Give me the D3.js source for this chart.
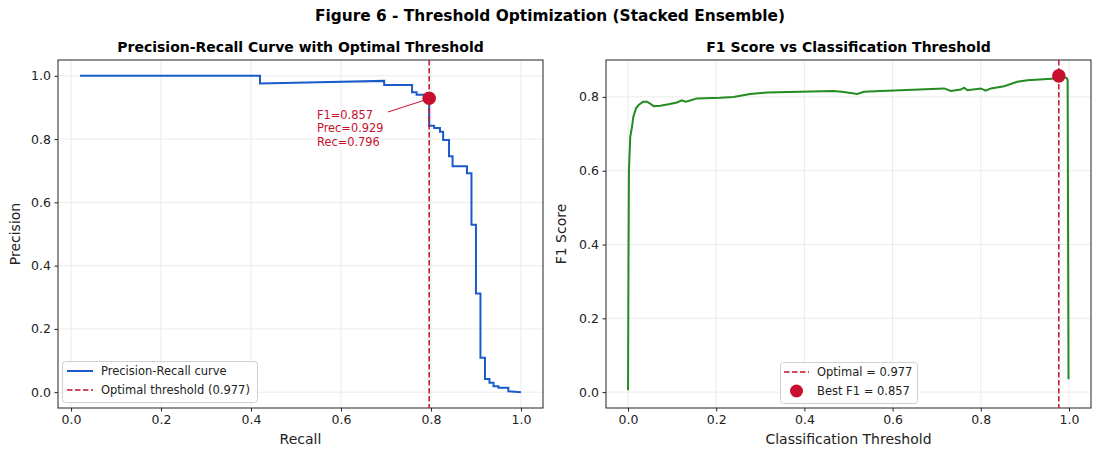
<!DOCTYPE html>
<html><head><meta charset="utf-8">
<script src="https://cdn.jsdelivr.net/npm/d3@7"></script>
<style>body{margin:0;background:#fff}svg{display:block;font-family:"DejaVu Sans",sans-serif}</style>
</head><body><svg id="c" width="1100" height="457"></svg>
<script>
// ---- data ----
const prRecall    = [0.02,0.42,0.42,0.55,0.696,0.696,0.758,0.758,0.768,0.768,0.790,0.790,0.796,0.796,0.807,0.807,0.820,0.820,0.827,0.827,0.840,0.840,0.848,0.848,0.880,0.880,0.890,0.890,0.900,0.900,0.910,0.910,0.920,0.920,0.930,0.930,0.939,0.939,0.950,0.950,0.972,0.972,1.0];
const prPrecision = [1.0,1.0,0.976,0.980,0.984,0.971,0.971,0.948,0.948,0.940,0.940,0.929,0.929,0.842,0.842,0.835,0.835,0.823,0.823,0.797,0.797,0.746,0.746,0.714,0.714,0.692,0.692,0.529,0.529,0.312,0.312,0.109,0.109,0.042,0.042,0.030,0.030,0.019,0.019,0.014,0.014,0.003,0.0];
const thresholds = [0.000,0.001,0.002,0.005,0.009,0.012,0.018,0.024,0.034,0.043,0.050,0.058,0.073,0.092,0.111,0.122,0.130,0.137,0.156,0.209,0.239,0.277,0.315,0.391,0.467,0.489,0.520,0.535,0.573,0.618,0.717,0.732,0.755,0.762,0.770,0.800,0.811,0.823,0.853,0.883,0.906,0.970,0.977,0.995,0.997,0.999];
const f1Scores   = [0.005,0.350,0.600,0.692,0.719,0.746,0.769,0.778,0.787,0.787,0.782,0.775,0.776,0.780,0.785,0.791,0.787,0.789,0.796,0.798,0.800,0.808,0.812,0.814,0.816,0.813,0.808,0.814,0.816,0.818,0.823,0.816,0.820,0.825,0.818,0.823,0.817,0.823,0.829,0.841,0.845,0.850,0.857,0.851,0.845,0.035];
const optimalThreshold = 0.977;
const bestF1 = 0.857, bestPrec = 0.929, bestRec = 0.796;
const ticks01 = [0,0.2,0.4,0.6,0.8,1.0];
const yTicksF1 = [0,0.2,0.4,0.6,0.8];
const titles = {main:"Figure 6 - Threshold Optimization (Stacked Ensemble)",
  left:"Precision-Recall Curve with Optimal Threshold", right:"F1 Score vs Classification Threshold"};

// ---- drawing ----
const svg = d3.select("#c");
const RED = "#c8102e", BLUE = "#1a5bc9", GREEN = "#228b22";
svg.append("text").attr("x",550).attr("y",21).attr("text-anchor","middle")
  .attr("font-weight","bold").attr("font-size",15.4).text(titles.main);

function panel(x0,x1,xd,yd,xt,yt,title,xlabel,ylabel,ylabX){
  const y0=60,y1=408;
  const x=d3.scaleLinear().domain(xd).range([x0,x1]);
  const y=d3.scaleLinear().domain(yd).range([y1,y0]);
  const g=svg.append("g");
  g.selectAll(".gx").data(xt).join("line").attr("x1",d=>x(d)).attr("x2",d=>x(d))
    .attr("y1",y0).attr("y2",y1).attr("stroke","#e6e6e6").attr("stroke-width",0.8);
  g.selectAll(".gy").data(yt).join("line").attr("y1",d=>y(d)).attr("y2",d=>y(d))
    .attr("x1",x0).attr("x2",x1).attr("stroke","#e6e6e6").attr("stroke-width",0.8);
  const ax=g.append("g").attr("transform",`translate(0,${y1})`)
    .call(d3.axisBottom(x).tickValues(xt).tickFormat(d3.format(".1f")).tickSize(3.5).tickPadding(3.5));
  const ay=g.append("g").attr("transform",`translate(${x0},0)`)
    .call(d3.axisLeft(y).tickValues(yt).tickFormat(d3.format(".1f")).tickSize(3.5).tickPadding(3.5));
  [ax,ay].forEach(a=>{a.select(".domain").remove();
    a.selectAll("text").attr("font-size",12.5).attr("fill","#222").style("font-family","DejaVu Sans");
    a.selectAll("line").attr("stroke","#222");});
  g.append("rect").attr("x",x0).attr("y",y0).attr("width",x1-x0).attr("height",y1-y0)
    .attr("fill","none").attr("stroke","#222").attr("stroke-width",1);
  svg.append("text").attr("x",(x0+x1)/2).attr("y",52).attr("text-anchor","middle")
    .attr("font-weight","bold").attr("font-size",14).text(title);
  svg.append("text").attr("x",(x0+x1)/2).attr("y",444).attr("text-anchor","middle")
    .attr("font-size",14).attr("fill","#222").text(xlabel);
  svg.append("text").attr("transform",`translate(${ylabX},${(y0+y1)/2}) rotate(-90)`)
    .attr("text-anchor","middle").attr("font-size",14).attr("fill","#222").text(ylabel);
  const clip="clip"+x0;
  svg.append("clipPath").attr("id",clip).append("rect").attr("x",x0).attr("y",y0).attr("width",x1-x0).attr("height",y1-y0);
  return {x,y,g:svg.append("g").attr("clip-path",`url(#${clip})`)};
}

// left panel
const L=panel(58,543,[-0.029,1.049],[-0.05,1.05],ticks01,ticks01,titles.left,"Recall","Precision",20);
L.g.append("path").datum(d3.range(prRecall.length))
  .attr("d",d3.line().x(i=>L.x(prRecall[i])).y(i=>L.y(prPrecision[i])))
  .attr("fill","none").attr("stroke",BLUE).attr("stroke-width",2);
L.g.append("line").attr("x1",L.x(bestRec)).attr("x2",L.x(bestRec)).attr("y1",60).attr("y2",408)
  .attr("stroke",RED).attr("stroke-width",1.5).attr("stroke-dasharray","5.5,2.5");
L.g.append("circle").attr("cx",L.x(bestRec)).attr("cy",L.y(bestPrec)).attr("r",6.8).attr("fill",RED);
// annotation
const ann=svg.append("g");
const ax0=L.x(bestRec), ay0=L.y(bestPrec);
ann.append("line").attr("x1",388).attr("y1",112).attr("x2",ax0-5).attr("y2",ay0+2)
  .attr("stroke",RED).attr("stroke-width",1);
["F1="+bestF1.toFixed(3),"Prec="+bestPrec.toFixed(3),"Rec="+bestRec.toFixed(3)].forEach((t,i)=>
  ann.append("text").attr("x",317).attr("y",118.5+i*13.6).attr("font-size",11.4).attr("fill",RED).text(t));
// left legend
const lg=svg.append("g");
lg.append("rect").attr("x",62.5).attr("y",361.5).attr("width",195).attr("height",41).attr("rx",3)
  .attr("fill","#fff").attr("fill-opacity",0.85).attr("stroke","#d0d0d0");
lg.append("line").attr("x1",67).attr("x2",93).attr("y1",371).attr("y2",371).attr("stroke",BLUE).attr("stroke-width",2);
lg.append("line").attr("x1",67).attr("x2",93).attr("y1",390).attr("y2",390).attr("stroke",RED).attr("stroke-width",1.5).attr("stroke-dasharray","5.5,2.5");
lg.append("text").attr("x",101).attr("y",375).attr("font-size",11.5).attr("fill","#222").text("Precision-Recall curve");
lg.append("text").attr("x",101).attr("y",394).attr("font-size",11.5).attr("fill","#222").text("Optimal threshold ("+optimalThreshold.toFixed(3)+")");

// right panel
const R=panel(606,1091,[-0.05,1.05],[-0.043,0.9],ticks01,yTicksF1,titles.right,"Classification Threshold","F1 Score",566);
R.g.append("line").attr("x1",R.x(optimalThreshold)).attr("x2",R.x(optimalThreshold)).attr("y1",60).attr("y2",408)
  .attr("stroke",RED).attr("stroke-width",1.5).attr("stroke-dasharray","5.5,2.5");
R.g.append("path").datum(d3.range(thresholds.length))
  .attr("d",d3.line().x(i=>R.x(thresholds[i])).y(i=>R.y(f1Scores[i])))
  .attr("fill","none").attr("stroke",GREEN).attr("stroke-width",2);
R.g.append("circle").attr("cx",R.x(optimalThreshold)).attr("cy",R.y(bestF1)).attr("r",6.8).attr("fill",RED);
const rg=svg.append("g");
rg.append("rect").attr("x",780.5).attr("y",362.5).attr("width",137).attr("height",41).attr("rx",3)
  .attr("fill","#fff").attr("fill-opacity",0.85).attr("stroke","#d0d0d0");
rg.append("line").attr("x1",784).attr("x2",809).attr("y1",372).attr("y2",372).attr("stroke",RED).attr("stroke-width",1.5).attr("stroke-dasharray","5.5,2.5");
rg.append("circle").attr("cx",796.5).attr("cy",391).attr("r",6.5).attr("fill",RED);
rg.append("text").attr("x",817).attr("y",376).attr("font-size",11.5).attr("fill","#222").text("Optimal = "+optimalThreshold.toFixed(3));
rg.append("text").attr("x",817).attr("y",395).attr("font-size",11.5).attr("fill","#222").text("Best F1 = "+bestF1.toFixed(3));
</script></body></html>
